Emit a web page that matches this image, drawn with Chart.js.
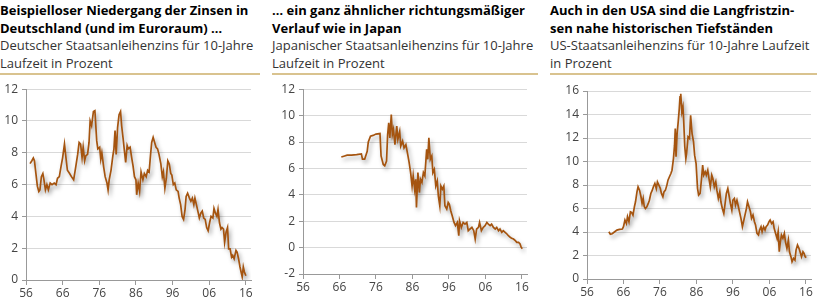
<!DOCTYPE html>
<html>
<head>
<meta charset="utf-8">
<script src="https://cdn.jsdelivr.net/npm/chart.js@4/dist/chart.umd.min.js"></script>
<style>
  body { margin: 0; background: #fff; width: 817px; height: 299px; overflow: hidden; position: relative; font-family: "Open Sans", "Noto Sans", sans-serif; }
  .head { position: absolute; top: 0; height: 71px; border-bottom: 2px solid #d9c38f; color: #000; }
  .head b { display: block; font-size: 13px; line-height: 17.5px; font-weight: 700; }
  .head span { display: block; font-size: 13px; line-height: 17.5px; color: #333; }
  .box { position: absolute; top: 78px; height: 221px; }
</style>
</head>
<body>
<div class="head" style="left:0; width:260px; padding-top:2px;"><b>Beispielloser Niedergang der Zinsen in Deutschland (und im Euroraum) …</b><span>Deutscher Staatsanleihenzins für 10-Jahre Laufzeit in Prozent</span></div>
<div class="head" style="left:272px; width:266px; padding-top:2px;"><b>… ein ganz ähnlicher richtungsmäßiger Verlauf wie in Japan</b><span>Japanischer Staatsanleihenzins für 10-Jahre Laufzeit in Prozent</span></div>
<div class="head" style="left:550px; width:267px; padding-top:2px;"><b>Auch in den USA sind die Langfristzin-<br>sen nahe historischen Tiefständen</b><span>US-Staatsanleihenzins für 10-Jahre Laufzeit in Prozent</span></div>

<div class="box" style="left:0; width:260px;"><canvas id="de"></canvas></div>
<div class="box" style="left:272px; width:266px;"><canvas id="jp"></canvas></div>
<div class="box" style="left:550px; width:267px;"><canvas id="us"></canvas></div>

<script>
// x tick labels (years)
var yearTicks = [1956, 1966, 1976, 1986, 1996, 2006, 2016];

// Germany, 10y yield in %
var deYears = [1957.1,1957.6,1958.0,1958.3,1958.7,1959.1,1959.5,1959.8,1960.2,1960.6,1960.9,1961.3,1961.7,1962.1,1962.6,1963.1,1963.7,1964.2,1964.6,1965.1,1965.6,1966.0,1966.5,1966.9,1967.3,1967.9,1968.4,1969.0,1969.5,1970.1,1970.5,1970.9,1971.3,1971.6,1972.0,1972.3,1972.8,1973.2,1973.5,1973.9,1974.4,1974.8,1975.3,1975.6,1976.1,1976.4,1976.7,1977.2,1977.6,1978.1,1978.4,1978.7,1979.2,1979.7,1980.0,1980.3,1980.6,1981.0,1981.4,1981.8,1982.1,1982.5,1982.8,1983.2,1983.6,1983.9,1984.4,1984.9,1985.2,1985.6,1986.0,1986.2,1986.6,1987.0,1987.4,1987.9,1988.3,1988.8,1989.2,1989.6,1990.0,1990.3,1990.7,1991.1,1991.5,1991.9,1992.3,1992.8,1993.2,1993.5,1993.9,1994.3,1994.7,1995.1,1995.5,1995.8,1996.2,1996.6,1997.0,1997.5,1997.8,1998.2,1998.6,1999.0,1999.4,1999.7,2000.1,2000.6,2001.0,2001.4,2001.8,2002.1,2002.5,2002.9,2003.3,2003.7,2004.1,2004.5,2004.9,2005.3,2005.7,2006.1,2006.5,2007.0,2007.3,2007.7,2008.1,2008.4,2008.8,2009.2,2009.5,2009.9,2010.2,2010.6,2011.0,2011.3,2011.7,2012.1,2012.4,2012.8,2013.3,2013.6,2014.0,2014.4,2014.7,2015.0,2015.3,2015.6,2016.0];
var deValues = [7.32,7.5,7.67,7.5,6.7,5.9,5.57,5.67,6.5,6.7,6.3,5.67,6.0,5.67,6.1,6.0,6.1,6.0,6.4,6.5,7.2,7.7,8.55,7.7,6.9,6.7,6.5,6.3,7.0,7.9,8.65,8.55,7.7,8.35,7.5,7.8,7.9,8.65,10.0,9.7,10.6,10.65,8.75,8.25,8.35,7.6,8.0,7.1,6.5,6.1,5.67,6.3,6.9,7.8,8.25,9.4,7.9,9.6,10.4,10.6,9.7,8.9,8.25,7.4,8.45,8.25,8.35,7.6,7.2,6.5,6.3,5.36,6.1,5.57,6.8,6.3,6.7,6.5,6.9,6.8,7.9,8.65,8.97,8.65,8.35,8.25,7.9,7.3,6.5,6.8,5.77,6.4,7.5,7.3,6.7,6.6,6.0,6.1,5.67,5.57,5.15,4.74,4.0,3.81,4.43,5.26,5.46,5.15,4.95,5.15,4.74,5.15,4.74,4.33,3.9,4.2,4.33,3.9,3.81,3.3,3.1,3.6,4.0,3.9,4.5,4.2,4.0,4.43,3.6,3.2,3.3,3.2,2.37,3.0,3.3,1.96,1.96,1.44,1.55,1.34,1.86,1.75,1.34,0.82,0.5,0.2,0.82,0.5,0.27];

// Japan, 10y yield in %
var jpYears = [1966.5,1967.4,1968.1,1969.3,1970.7,1972.0,1972.3,1972.9,1973.6,1973.9,1974.5,1975.2,1976.0,1977.1,1977.4,1978.0,1978.4,1978.9,1979.2,1979.5,1979.8,1980.2,1980.5,1980.8,1981.2,1981.7,1982.0,1982.5,1982.8,1983.3,1983.7,1984.2,1984.7,1985.1,1985.5,1985.9,1986.2,1986.6,1986.9,1987.1,1987.5,1987.9,1988.2,1988.6,1989.0,1989.4,1989.9,1990.2,1990.5,1990.9,1991.3,1991.6,1992.0,1992.4,1992.8,1993.1,1993.5,1993.8,1994.2,1994.6,1994.9,1995.4,1995.8,1996.1,1996.5,1996.9,1997.4,1997.8,1998.3,1998.7,1998.9,1999.4,1999.9,2000.4,2000.9,2001.3,2001.8,2002.3,2002.8,2003.2,2003.6,2004.1,2004.4,2004.9,2005.4,2005.9,2006.4,2006.8,2007.3,2007.7,2008.2,2008.7,2009.1,2009.6,2010.0,2010.5,2010.9,2011.4,2011.9,2012.3,2012.8,2013.2,2013.7,2014.2,2014.6,2015.1,2015.5,2015.8,2016.1];
var jpValues = [6.86,6.94,7.0,7.0,7.04,7.1,6.7,6.7,7.3,8.0,8.44,8.5,8.6,8.64,6.94,6.3,6.2,6.55,8.57,9.45,8.3,10.08,8.57,8.95,7.8,9.2,8.2,8.8,7.7,8.07,7.56,7.8,7.06,6.43,5.68,4.67,5.43,4.42,5.18,3.04,5.68,4.17,5.18,4.93,5.68,5.43,7.44,6.69,8.32,6.69,6.94,5.68,5.93,4.67,5.05,3.92,3.17,4.67,4.42,4.67,3.17,2.92,3.42,3.29,2.79,2.41,1.91,1.66,1.91,0.9,2.04,1.53,1.91,1.78,1.91,1.28,1.41,1.53,1.28,0.65,1.41,1.53,1.91,1.28,1.53,1.66,1.91,1.78,1.66,1.78,1.53,1.41,1.53,1.28,1.41,1.16,1.28,1.16,1.03,0.9,0.78,0.7,0.65,0.53,0.4,0.4,0.28,0.03,-0.08];

// USA, 10y yield in %
var usYears = [1962.0,1962.4,1962.9,1963.6,1964.2,1964.9,1965.7,1966.0,1966.4,1966.8,1967.1,1967.5,1967.9,1968.2,1968.6,1969.0,1969.3,1969.7,1970.0,1970.4,1970.8,1971.1,1971.4,1971.7,1972.0,1972.4,1972.8,1973.1,1973.5,1973.9,1974.2,1974.6,1975.0,1975.3,1975.7,1976.1,1976.4,1976.8,1977.1,1977.5,1977.9,1978.2,1978.6,1979.0,1979.3,1979.7,1980.0,1980.2,1980.4,1980.7,1981.0,1981.3,1981.5,1981.7,1982.0,1982.3,1982.5,1982.8,1983.1,1983.3,1983.7,1984.1,1984.4,1984.8,1985.2,1985.5,1985.9,1986.3,1986.6,1987.0,1987.4,1987.7,1988.0,1988.4,1988.7,1989.1,1989.5,1989.8,1990.2,1990.5,1990.9,1991.3,1991.6,1992.0,1992.4,1992.7,1993.1,1993.5,1993.8,1994.2,1994.6,1995.0,1995.3,1995.7,1996.0,1996.4,1996.7,1997.1,1997.5,1997.8,1998.2,1998.6,1998.9,1999.3,1999.7,2000.0,2000.4,2000.8,2001.1,2001.5,2001.9,2002.2,2002.6,2003.0,2003.3,2003.7,2004.0,2004.4,2004.8,2005.1,2005.5,2005.9,2006.2,2006.6,2007.0,2007.3,2007.7,2008.1,2008.4,2008.7,2009.0,2009.3,2009.7,2010.1,2010.4,2010.8,2011.2,2011.5,2011.9,2012.2,2012.6,2013.0,2013.3,2013.7,2014.1,2014.4,2014.8,2015.2,2015.5,2015.8,2016.1];
var usValues = [4.02,3.8,3.85,4.02,4.16,4.22,4.25,4.45,5.01,4.72,5.3,4.87,5.72,5.67,5.44,6.15,6.57,7.42,7.85,7.56,7.0,6.43,6.86,6.15,6.0,6.15,6.43,6.71,7.28,7.56,7.85,8.13,7.7,8.27,7.99,7.7,7.28,7.0,7.42,7.56,7.99,8.41,8.7,8.98,9.26,10.25,11.39,12.8,10.4,12.37,13.37,14.5,15.5,15.77,14.22,14.65,13.5,11.25,10.25,10.68,12.1,11.95,13.94,12.38,11.67,10.54,9.83,7.7,7.14,7.28,8.55,9.69,8.84,9.12,8.84,9.26,8.41,7.85,8.84,8.55,7.85,8.27,7.56,6.86,7.42,6.57,6.0,5.58,6.29,7.28,7.7,7.0,6.43,5.86,6.71,6.86,6.29,6.71,6.15,5.72,5.16,4.45,4.87,5.44,6.0,6.57,6.15,5.72,5.16,5.44,4.87,4.59,3.88,3.74,4.16,4.45,4.02,4.45,4.16,4.45,4.59,4.87,5.01,4.72,4.87,4.31,3.88,3.46,4.02,2.32,3.17,3.74,3.46,3.88,3.17,2.61,3.31,2.32,1.9,1.47,1.76,1.61,2.46,2.89,2.61,2.32,1.9,2.32,2.18,1.9,1.81];

var lineColor = '#a5540f';

// soft drop shadow under the series line
var shadowPlugin = {
  id: 'lineShadow',
  beforeDatasetsDraw: function (chart) {
    var ctx = chart.ctx;
    ctx.save();
    ctx.shadowColor = 'rgba(0,0,0,0.35)';
    ctx.shadowBlur = 4;
    ctx.shadowOffsetX = 2;
    ctx.shadowOffsetY = 3;
  },
  afterDatasetsDraw: function (chart) {
    chart.ctx.restore();
  }
};

function makeChart(id, xs, ys, yMin, yMax, yWidth, xHeight, padTop, padRight) {
  var pts = xs.map(function (x, i) { return { x: x, y: ys[i] }; });
  return new Chart(document.getElementById(id), {
    type: 'line',
    data: { datasets: [{ data: pts, borderColor: lineColor, borderWidth: 1.7, pointRadius: 0, tension: 0 }] },
    options: {
      responsive: true,
      maintainAspectRatio: false,
      animation: false,
      layout: { padding: { top: padTop, right: padRight, left: 0, bottom: 0 } },
      plugins: { legend: { display: false }, tooltip: { enabled: false } },
      scales: {
        x: {
          type: 'linear', min: 1956, max: 2017.4,
          afterBuildTicks: function (s) { s.ticks = yearTicks.map(function (v) { return { value: v }; }); },
          afterFit: function (s) { s.height = xHeight; },
          grid: { drawOnChartArea: false, tickLength: 5, color: '#999' },
          border: { color: '#999' },
          ticks: { color: '#444', padding: 1, maxRotation: 0, font: { family: 'Open Sans', size: 12 },
            callback: function (v) { return String(v).slice(2); } }
        },
        y: {
          min: yMin, max: yMax,
          afterFit: function (s) { s.width = yWidth; },
          grid: { color: '#d9d9d9', tickLength: 4, tickColor: '#999' },
          border: { color: '#999' },
          ticks: { stepSize: 2, color: '#444', padding: 4, font: { family: 'Open Sans', size: 12 } }
        }
      }
    },
    plugins: [shadowPlugin]
  });
}

makeChart('de', deYears, deValues, 0, 12, 26, 19, 8, 9);
makeChart('jp', jpYears, jpValues, -2, 12, 31, 25, 10, 11);
makeChart('us', usYears, usValues, 0, 16, 37, 20, 13, 6);
</script>
</body>
</html>
